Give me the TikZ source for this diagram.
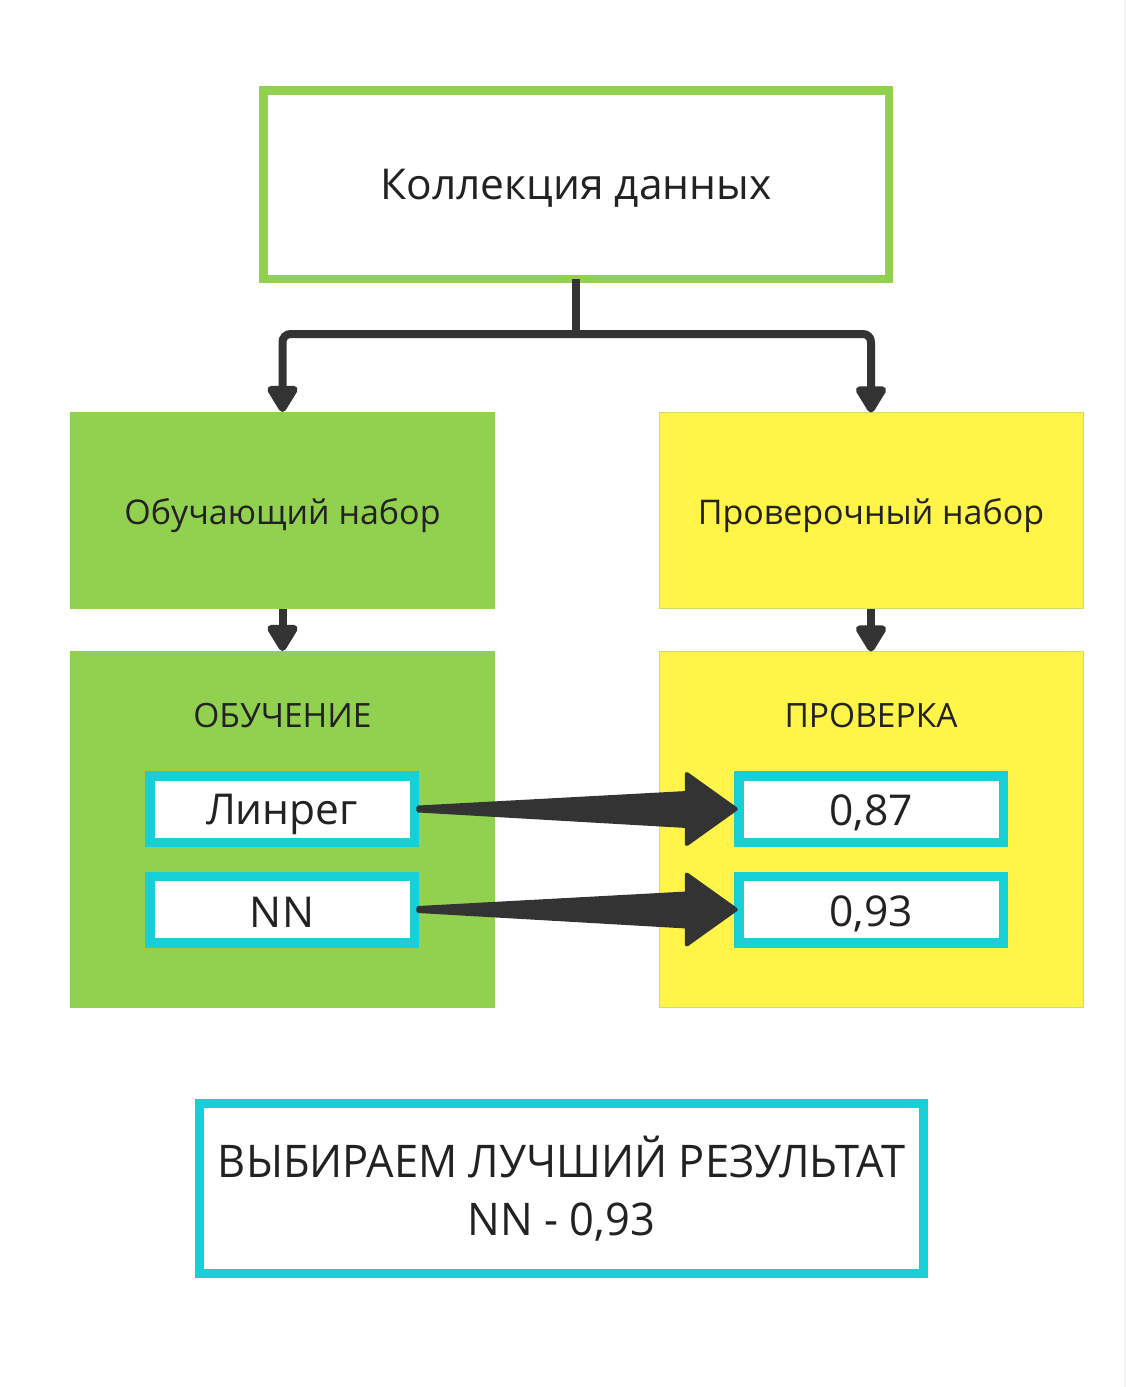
\documentclass[tikz,border=0pt]{standalone}
\usepackage{fontspec}
\setmainfont{Open Sans}
\newfontfamily\condfont[FakeStretch=0.965]{Open Sans}
\usetikzlibrary{arrows.meta,calc}
\definecolor{fgreen}{HTML}{92D050}
\definecolor{fyellow}{HTML}{FFF447}
\definecolor{yborder}{HTML}{C9DF66}
\definecolor{fcyan}{HTML}{17CFD7}
\definecolor{dark}{HTML}{333333}
\definecolor{txt}{HTML}{222222}
\newcommand\txtdown[2]{\raisebox{-#1}[\height][\depth]{#2}}
\begin{document}
\begin{tikzpicture}[x=1pt,y=-1pt,
  every node/.style={inner sep=0pt, outer sep=0pt, text=txt},
  topbox/.style={draw=fgreen, line width=8.5pt, fill=white, minimum width=625.5pt, minimum height=188.5pt, font=\fontsize{42.5}{50}\selectfont},
  greenbox/.style={fill=fgreen, minimum width=425pt},
  yellowbox/.style={fill=fyellow, draw=yborder, line width=1pt, minimum width=424pt},
  midfont/.style={font=\fontsize{34}{40}\selectfont},
  capfont/.style={font=\fontsize{33.5}{40}\selectfont},
  cyanbox/.style={draw=fcyan, line width=9.5pt, fill=white, minimum width=264.5pt, minimum height=66.5pt, font=\fontsize{42.5}{50}\selectfont},
  conn/.style={draw=dark, line width=8pt, -{Triangle[width=34pt,length=30pt,round]}},
  bigarrow/.style={fill=dark, draw=dark, line width=4pt, line join=round}
]
\useasboundingbox (0,0) rectangle (1126,1387);
\fill[white] (0,0) rectangle (1126,1387);
\draw[gray!12, line width=1.5pt] (1124.5,0) -- (1124.5,1387);

\node[topbox] (top) at (576,184.5) {\txtdown{4pt}{Коллекция данных}};

\node[greenbox, minimum height=197pt, midfont] (trainset) at (282.5,510.5) {\txtdown{5pt}{Обучающий набор}};
\node[yellowbox, minimum height=196pt, midfont] (testset) at (871,510.5) {\txtdown{5pt}{Проверочный набор}};

\node[greenbox, minimum height=357pt] (train) at (282.5,829.5) {};
\node[yellowbox, minimum height=356pt] (test) at (871,829.5) {};

\node[capfont] (trainlbl) at (282.5,716) {ОБУЧЕНИЕ};
\node[capfont] (testlbl) at (871,716) {ПРОВЕРКА};

\node[cyanbox] (lin) at (282,809) {\txtdown{5pt}{Линрег}};
\node[cyanbox] (nn) at (282,909.5) {\txtdown{3pt}{NN}};
\node[cyanbox] (v87) at (871,809) {\txtdown{4pt}{0,87}};
\node[cyanbox] (v93) at (871,909.5) {\txtdown{4pt}{0,93}};

\node[draw=fcyan, line width=9pt, fill=white, minimum width=724pt, minimum height=170pt, align=center, font=\condfont\fontsize{45}{58}\selectfont] (result) at (561.5,1188.5) {ВЫБИРАЕМ ЛУЧШИЙ РЕЗУЛЬТАТ\\NN - 0,93};

% split connector
\coordinate (split) at (576,334);
\draw[draw=dark, line width=8pt] (top.south) -- (split);
\draw[conn, rounded corners=8pt] (split) -| (trainset.north);
\draw[conn, rounded corners=8pt] (split) -| (testset.north);

\draw[conn] (trainset.south) -- (train.north);
\draw[conn] (testset.south) -- (test.north);

% tapered arrows
\foreach \a/\b in {lin/v87, nn/v93}{
  \path let \p1=(\a.east), \p2=(\b.west) in
    coordinate (A) at (\x1+4,\y1) coordinate (B) at (\x2-3,\y1);
  \draw[bigarrow] ($(A)+(0,-1.5)$) -- ($(B)+(-49,-16)$) -- ($(B)+(-49,-35)$) -- (B) -- ($(B)+(-49,35)$) -- ($(B)+(-49,17)$) -- ($(A)+(0,1.5)$) -- cycle;
}
\end{tikzpicture}
\end{document}
